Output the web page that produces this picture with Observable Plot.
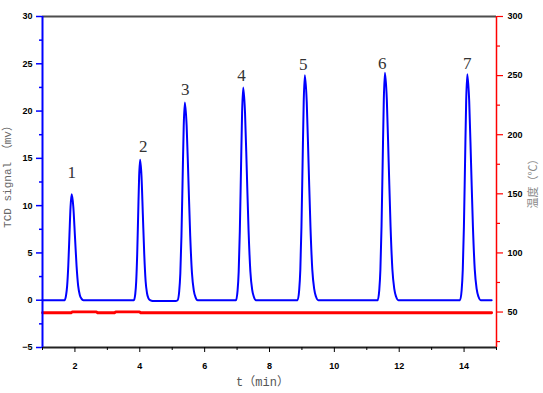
<!DOCTYPE html>
<html><head><meta charset="utf-8">
<script src="https://cdn.jsdelivr.net/npm/d3@7"></script>
<script src="https://cdn.jsdelivr.net/npm/@observablehq/plot@0.6"></script>
<style>body{margin:0;background:#fff}#chart svg{display:block}</style>
</head><body><div id="chart"></div>
<script>
// TCD signal (mV) vs time (min)
const signalT = [1.00,
 1.68,1.725,1.76,1.795,1.83,1.865,1.90,1.95,2.00,2.05,2.10,2.15,2.20,2.26,
 3.818,3.86,3.89,3.92,3.95,3.98,4.01,4.053,4.095,4.138,4.18,4.223,4.265,4.316,4.40,5.10,
 5.166,5.215,5.25,5.285,5.32,5.355,5.39,5.445,5.50,5.555,5.61,5.665,5.72,5.786,
 6.966,7.015,7.05,7.085,7.12,7.155,7.19,7.245,7.30,7.355,7.41,7.465,7.52,7.586,
 8.866,8.915,8.95,8.985,9.02,9.055,9.09,9.148,9.205,9.263,9.32,9.378,9.435,9.504,
 11.336,11.385,11.42,11.455,11.49,11.525,11.56,11.618,11.675,11.733,11.79,11.848,11.905,11.974,
 13.876,13.925,13.96,13.995,14.03,14.065,14.10,14.158,14.215,14.273,14.33,14.388,14.445,14.514,
 14.85];
const signalV = [0,
 0,0.49,1.51,3.64,6.80,9.88,11.2,9.88,6.80,3.64,1.51,0.56,0.17,0,
 0,0.65,2.0,4.83,9.01,13.1,14.85,13.1,9.01,4.83,2.0,0.74,0.22,0,-0.08,-0.08,
 0,0.92,2.82,6.79,12.69,18.43,20.9,18.43,12.69,6.79,2.82,1.05,0.31,0,
 0,0.99,3.04,7.31,13.66,19.85,22.5,19.85,13.66,7.31,3.04,1.13,0.34,0,
 0,1.05,3.21,7.74,14.45,20.99,23.8,20.99,14.45,7.74,3.21,1.19,0.36,0,
 0,1.06,3.25,7.82,14.6,21.21,24.05,21.21,14.6,7.82,3.25,1.2,0.36,0,
 0,1.05,3.23,7.77,14.51,21.08,23.9,21.08,14.51,7.77,3.23,1.2,0.36,0,
 0];

// Temperature (°C) vs time (min)
const tempT = [1.00, 1.88, 1.92, 2.66, 2.70, 3.22, 3.26, 3.99, 4.03, 14.85];
const tempC = [49.4, 49.4, 50.2, 50.2, 49.4, 49.4, 50.2, 50.2, 49.4, 49.4];

// Peak labels
const peakLabels = ["1", "2", "3", "4", "5", "6", "7"];
const labelT = [1.90, 4.11, 5.40, 7.14, 9.04, 11.48, 14.10];
const labelV = [13.55, 16.2, 22.25, 23.8, 24.9, 25.0, 25.0];

// Axis ticks
const xTicks = [2, 4, 6, 8, 10, 12, 14];
const xMinor = [1, 3, 5, 7, 9, 11, 13, 15];
const leftTicks = [-5, 0, 5, 10, 15, 20, 25, 30];
const leftMinor = [-2.5, 2.5, 7.5, 12.5, 17.5, 22.5, 27.5];
const rightTicks = [50, 100, 150, 200, 250, 300];
const rightMinor = [25, 75, 125, 175, 225, 275];

const xTitle = "t（min）";
const leftTitle = "TCD signal （mv）";
const rightTitle = "温度（℃）";

// right axis (°C) shares the left axis: -5..30 mV  <->  20..300 °C
const toLeft = c => (c - 60) / 8;
const toTemp = v => Math.round(60 + 8 * v);

const tickFont = {fontFamily: "Liberation Sans, Arial, sans-serif", fontSize: 9, fontWeight: "bold", fill: "#000"};
const titleFont = {fontFamily: "Liberation Mono, Noto Sans CJK SC, monospace", fontSize: 11, textAnchor: "middle", lineAnchor: "middle"};

const chart = Plot.plot({
  width: 543,
  height: 393,
  marginLeft: 42,
  marginRight: 47,
  marginTop: 16,
  marginBottom: 46,
  x: {domain: [1, 15], axis: null},
  y: {domain: [-5, 30], axis: null},
  style: {background: "#fff"},
  marks: [
    Plot.line(tempC, {x: tempT, y: tempC.map(toLeft), stroke: "#ff0000", strokeWidth: 2.8}),
    Plot.line(signalV, {x: signalT, y: signalV, stroke: "#0000ff", strokeWidth: 2, curve: "monotone-x"}),
    Plot.text(peakLabels, {x: labelT, y: labelV, text: d => d, fontFamily: "Liberation Serif, Times New Roman, serif", fontSize: 17, fill: "#333"}),
    // frame lines
    Plot.ruleY([30], {stroke: "#4d4d4d", strokeWidth: 2}),
    Plot.ruleY([-5], {stroke: "#222", strokeWidth: 2}),
    Plot.ruleX([1], {stroke: "#0000ff", strokeWidth: 2}),
    Plot.ruleX([15], {stroke: "#ff0000", strokeWidth: 1.5}),
    // bottom axis
    Plot.axisX(xTicks, {anchor: "bottom", tickSize: 5, tickPadding: 10, stroke: "#000", label: null, ...tickFont}),
    Plot.axisX(xMinor, {anchor: "bottom", tickSize: 3, tickFormat: () => "", stroke: "#000", label: null}),
    // left axis
    Plot.axisY(leftTicks, {anchor: "left", tickSize: 6, tickPadding: 4, stroke: "#0000ff", strokeWidth: 1.5, label: null, ...tickFont}),
    Plot.axisY(leftMinor, {anchor: "left", tickSize: 3, tickFormat: () => "", stroke: "#0000ff", strokeWidth: 1.5, label: null}),
    // right axis
    Plot.axisY(rightTicks.map(toLeft), {anchor: "right", tickSize: 6, tickPadding: 5, tickFormat: toTemp, stroke: "#ff0000", strokeWidth: 1.2, label: null, ...tickFont}),
    Plot.axisY(rightMinor.map(toLeft), {anchor: "right", tickSize: 3, tickFormat: () => "", stroke: "#ff0000", strokeWidth: 1.2, label: null}),
    // titles
    Plot.text([xTitle], {frameAnchor: "bottom", dx: -7, dy: 35, fill: "#555", ...titleFont, fontSize: 12}),
    Plot.text([leftTitle], {frameAnchor: "left", rotate: -90, dx: -35, dy: -8, fill: "#666", ...titleFont}),
    Plot.text([rightTitle], {frameAnchor: "right", rotate: -90, dx: 37, dy: -1, fill: "#888", ...titleFont, fontFamily: "Noto Sans CJK SC, sans-serif"})
  ]
});
document.getElementById("chart").appendChild(chart);
</script>
</body></html>
